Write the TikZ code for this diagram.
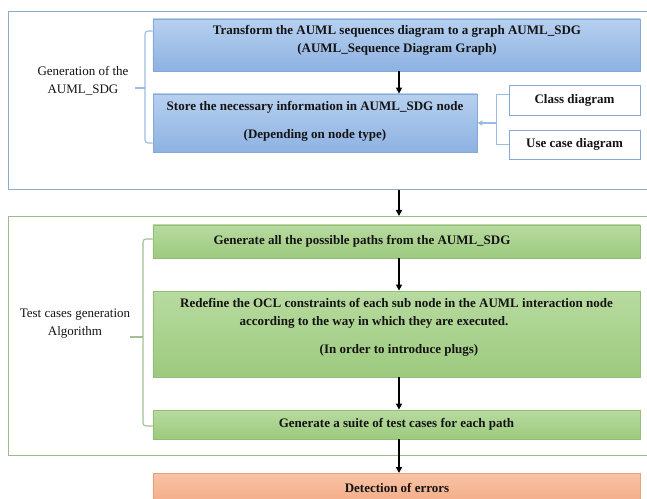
\documentclass[tikz,border=0pt]{standalone}
\usepackage{fontspec}
\setmainfont{Liberation Serif}
\usetikzlibrary{arrows.meta}
\definecolor{blueTop}{HTML}{B7D0EF}
\definecolor{blueBot}{HTML}{8DB2E2}
\definecolor{blueEdge}{HTML}{86A8D6}
\definecolor{greenTop}{HTML}{B8DBA0}
\definecolor{greenBot}{HTML}{9CCA7E}
\definecolor{greenEdge}{HTML}{93BC78}
\definecolor{orangeTop}{HTML}{F8C3A5}
\definecolor{orangeBot}{HTML}{F2A47C}
\definecolor{orangeEdge}{HTML}{E8A07A}
\definecolor{frameBlue}{HTML}{8FA9C9}
\definecolor{frameGreen}{HTML}{9DBA8C}
\definecolor{brBlue}{HTML}{9CBBE0}
\definecolor{brGreen}{HTML}{A3BE92}
\definecolor{ink}{HTML}{141414}
\tikzset{
  txt/.style={font=\fontsize{13bp}{18bp}\selectfont, text=ink, inner sep=0pt},
  btxt/.style={txt, font=\fontsize{13bp}{18bp}\selectfont\bfseries},
  bluebox/.style={draw=blueEdge, line width=0.8bp, top color=blueTop, bottom color=blueBot, inner sep=0pt},
  greenbox/.style={draw=greenEdge, line width=0.8bp, top color=greenTop, bottom color=greenBot, inner sep=0pt},
  orangebox/.style={draw=orangeEdge, line width=0.8bp, top color=orangeTop, bottom color=orangeBot, inner sep=0pt},
  whitebox/.style={draw=blueEdge, line width=0.9bp, fill=white, inner sep=0pt},
  flow/.style={draw=black, line width=1.4bp, -{Triangle[length=6bp,width=6bp]}},
  bracketB/.style={draw=brBlue, line width=1.1bp, rounded corners=3bp},
  bracketG/.style={draw=brGreen, line width=1.1bp, rounded corners=3bp},
}
\begin{document}
\begin{tikzpicture}[x=1bp,y=-1bp]
\useasboundingbox (0,0) rectangle (647,499);
\clip (0,0) rectangle (647,499);
% outer frames
\node[draw=frameBlue, line width=1bp, minimum width=652bp, minimum height=178bp, anchor=north west, inner sep=0pt] (frameA) at (8,11) {};
\node[draw=frameGreen, line width=1bp, minimum width=652bp, minimum height=239bp, anchor=north west, inner sep=0pt] (frameB) at (8,216) {};
% blue boxes
\node[bluebox, minimum width=487bp, minimum height=52bp] (b1) at (396.5,45) {};
\node[btxt, align=center] at (397,40.5) {Transform the AUML sequences diagram to a graph AUML\_SDG\\(AUML\_Sequence Diagram Graph)};
\node[bluebox, minimum width=324bp, minimum height=58bp] (b2) at (315,123) {};
\node[btxt] at (315,107) {Store the necessary information in AUML\_SDG node};
\node[btxt] at (315,135) {(Depending on node type)};
\node[whitebox, minimum width=131bp, minimum height=30bp] (cd) at (574.5,100) {};
\node[btxt] at (574.5,100) {Class diagram};
\node[whitebox, minimum width=131bp, minimum height=29bp] (ud) at (574.5,144.5) {};
\node[btxt] at (574.5,144.5) {Use case diagram};
% green boxes
\node[greenbox, minimum width=487bp, minimum height=33bp] (g1) at (396.5,241.5) {};
\node[btxt] at (362,241.5) {Generate all the possible paths from the AUML\_SDG};
\node[greenbox, minimum width=487bp, minimum height=86bp] (g2) at (396.5,334) {};
\node[btxt] at (396.5,303) {Redefine the OCL constraints of each sub node in the AUML interaction node};
\node[btxt] at (374,322) {according to the way in which they are executed.};
\node[btxt] at (399,350) {(In order to introduce plugs)};
\node[greenbox, minimum width=487bp, minimum height=29bp] (g3) at (396.5,424.5) {};
\node[btxt] at (396.5,424.5) {Generate a suite of test cases for each path};
% orange box
\node[orangebox, minimum width=487bp, minimum height=40bp, anchor=north] (o1) at (396.5,473) {};
\node[btxt] at (397,488) {Detection of errors};
% side labels
\node[txt, align=center] (lab1) at (83,81) {Generation of the\\AUML\_SDG};
\node[txt, align=center] (lab2) at (75,323.5) {Test cases generation\\Algorithm};
% brackets
\draw[bracketB] (b1.west |- 0,31) -- (145,31) -- (145,143) -- (b2.west |- 0,143);
\draw[bracketB] (145,88) -- (135,88);
\draw[bracketG] (g1.west |- 0,239) -- (143,239) -- (143,426) -- (g3.west |- 0,426);
\draw[bracketG] (143,337) -- (130,337);
\coordinate (jn) at (496,123);
\draw[draw=brBlue, line width=1bp] (cd.west |- 0,95) -- (496,95) -- (496,144.5) -- (ud.west);
\draw[draw=brBlue, line width=1.2bp, -{Triangle[length=5bp,width=5bp]}] (jn) -- (b2.east);
% flow arrows
\draw[flow] (b1.south -| 399,0) -- (b2.north -| 399,0);
\draw[flow] (frameA.south -| 399,0) -- (frameB.north -| 399,0);
\draw[flow] (g1.south -| 399,0) -- (g2.north -| 399,0);
\draw[flow] (g2.south -| 399,0) -- (g3.north -| 399,0);
\draw[flow] (g3.south -| 399,0) -- (o1.north -| 399,0);
\end{tikzpicture}
\end{document}
